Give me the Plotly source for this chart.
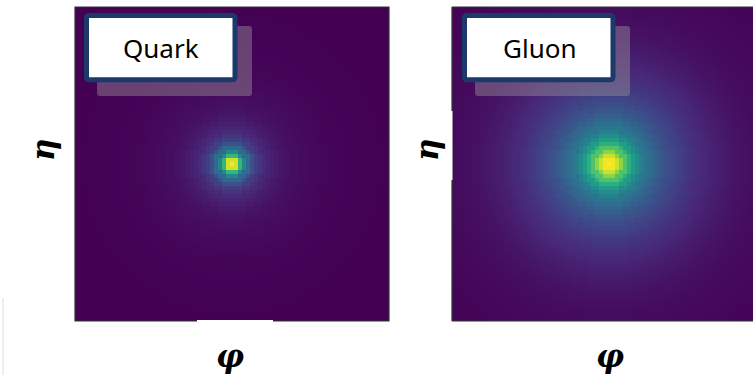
import plotly.graph_objects as go

W, H = 753, 375

# ---- data: radial intensity profiles (viridis-normalised), one value per pixel ring ----
grid_size = 79
quark_profile = [1.00, 0.93, 0.66, 0.46, 0.34, 0.25, 0.19, 0.15, 0.12, 0.10,
                 0.085, 0.072, 0.062, 0.054, 0.047, 0.041, 0.036, 0.032, 0.028, 0.025,
                 0.022, 0.019, 0.017, 0.015, 0.013, 0.011, 0.010, 0.009, 0.008, 0.007,
                 0.006, 0.005, 0.004, 0.004, 0.003, 0.003, 0.002, 0.002, 0.002, 0.001,
                 0.001, 0.001, 0.001, 0.0, 0.0, 0.0, 0.0, 0.0, 0.0, 0.0,
                 0.0, 0.0, 0.0, 0.0, 0.0, 0.0, 0.0, 0.0]
gluon_profile = [1.00, 0.98, 0.92, 0.82, 0.72, 0.63, 0.55, 0.49, 0.44, 0.395,
                 0.36, 0.33, 0.30, 0.275, 0.255, 0.235, 0.215, 0.20, 0.185, 0.17,
                 0.156, 0.144, 0.132, 0.121, 0.111, 0.102, 0.094, 0.086, 0.079, 0.072,
                 0.066, 0.060, 0.055, 0.050, 0.046, 0.042, 0.038, 0.035, 0.032, 0.029,
                 0.027, 0.025, 0.023, 0.021, 0.019, 0.017, 0.016, 0.015, 0.014, 0.013,
                 0.012, 0.011, 0.010, 0.009, 0.008, 0.007, 0.006, 0.005]
labels = ["Quark", "Gluon"]
axis_x_label = "φ"
axis_y_label = "η"


def ring_image(profile):
    c = (grid_size - 1) / 2
    img = []
    for r in range(grid_size):
        row = []
        for q in range(grid_size):
            d = int(round(((r - c) ** 2 + (q - c) ** 2) ** 0.5))
            row.append(profile[min(d, len(profile) - 1)])
        img.append(row)
    return img


fig = go.Figure()
fig.add_trace(go.Heatmap(z=ring_image(quark_profile), colorscale="Viridis", zmin=0, zmax=1,
                         showscale=False, xaxis="x", yaxis="y", hoverinfo="skip"))
fig.add_trace(go.Heatmap(z=ring_image(gluon_profile), colorscale="Viridis", zmin=0, zmax=1,
                         showscale=False, xaxis="x2", yaxis="y2", hoverinfo="skip"))

# panel geometry in pixels
L_x0, L_x1 = 75, 389
R_x0, R_x1 = 452, 766
P_y0, P_y1 = 7, 321


def px(x):
    return x / W


def py(y):
    return 1 - y / H


vis_frac = (W - R_x0) / (R_x1 - R_x0)
fig.update_layout(
    width=W, height=H, margin=dict(l=0, r=0, t=0, b=0),
    paper_bgcolor="white", plot_bgcolor="white",
    xaxis=dict(domain=[px(L_x0), px(L_x1)], range=[-0.5, grid_size - 0.5], visible=False),
    yaxis=dict(domain=[py(P_y1), py(P_y0)], range=[-0.5, grid_size - 0.5], visible=False),
    xaxis2=dict(domain=[px(R_x0), 1], range=[-0.5, -0.5 + grid_size * vis_frac], visible=False),
    yaxis2=dict(domain=[py(P_y1), py(P_y0)], range=[-0.5, grid_size - 0.5], visible=False),
    showlegend=False,
)


def rrect(x0, y0, x1, y1, r):
    rx, ry = r / W, r / H
    X0, X1, Y0, Y1 = px(x0), px(x1), py(y0), py(y1)
    return (f"M {X0+rx},{Y0} L {X1-rx},{Y0} Q {X1},{Y0} {X1},{Y0-ry} "
            f"L {X1},{Y1+ry} Q {X1},{Y1} {X1-rx},{Y1} L {X0+rx},{Y1} "
            f"Q {X0},{Y1} {X0},{Y1+ry} L {X0},{Y0-ry} Q {X0},{Y0} {X0+rx},{Y0} Z")


shapes = []
# panel borders
border = dict(color="#333333", width=1.2)
shapes.append(dict(type="rect", xref="paper", yref="paper", x0=px(L_x0), x1=px(L_x1),
                   y0=py(P_y1), y1=py(P_y0), line=border, fillcolor="rgba(0,0,0,0)"))
for (a, b, c, d) in [(R_x0, P_y0, R_x0, P_y1), (R_x0, P_y0, W, P_y0), (R_x0, P_y1, W, P_y1)]:
    shapes.append(dict(type="line", xref="paper", yref="paper", x0=px(a), y0=py(b),
                       x1=px(c), y1=py(d), line=border))

# label boxes with shadows
for bx in [84, 462]:
    shapes.append(dict(type="path", xref="paper", yref="paper",
                       path=rrect(bx + 13, 26, bx + 168, 96, 3),
                       fillcolor="rgba(150,145,150,0.45)", line=dict(width=0)))
    shapes.append(dict(type="path", xref="paper", yref="paper",
                       path=rrect(bx + 2.5, 15.5, bx + 151, 79.8, 3),
                       fillcolor="white", line=dict(color="#1b3a6b", width=5)))

# white cover artifacts
shapes.append(dict(type="rect", xref="paper", yref="paper", x0=px(197), x1=px(273),
                   y0=py(323), y1=py(320), fillcolor="white", line=dict(width=0)))
shapes.append(dict(type="rect", xref="paper", yref="paper", x0=px(450), x1=px(452.5),
                   y0=py(180), y1=py(111), fillcolor="white", line=dict(width=0)))
shapes.append(dict(type="line", xref="paper", yref="paper", x0=px(3), x1=px(3),
                   y0=py(298), y1=py(375), line=dict(color="#dddddd", width=1)))
fig.update_layout(shapes=shapes)

ann = []
for cx, t in zip([160.5, 539.5], labels):
    ann.append(dict(x=px(cx), y=py(47.5), xref="paper", yref="paper", text=t, showarrow=False,
                    xanchor="center", yanchor="middle",
                    font=dict(family="Noto Sans", size=26, color="black")))
greek_font = dict(family="DejaVu Serif", size=31, color="black", weight="bold", style="italic")
for cx in [43, 427]:
    ann.append(dict(x=px(cx), y=py(150), xref="paper", yref="paper", text=axis_y_label,
                    showarrow=False, textangle=-90, xanchor="center", yanchor="middle",
                    font=greek_font))
for cx in [230, 610]:
    ann.append(dict(x=px(cx), y=py(356), xref="paper", yref="paper", text=axis_x_label,
                    showarrow=False, xanchor="center", yanchor="middle", font=greek_font))
fig.update_layout(annotations=ann)

fig.write_html("out.html")
